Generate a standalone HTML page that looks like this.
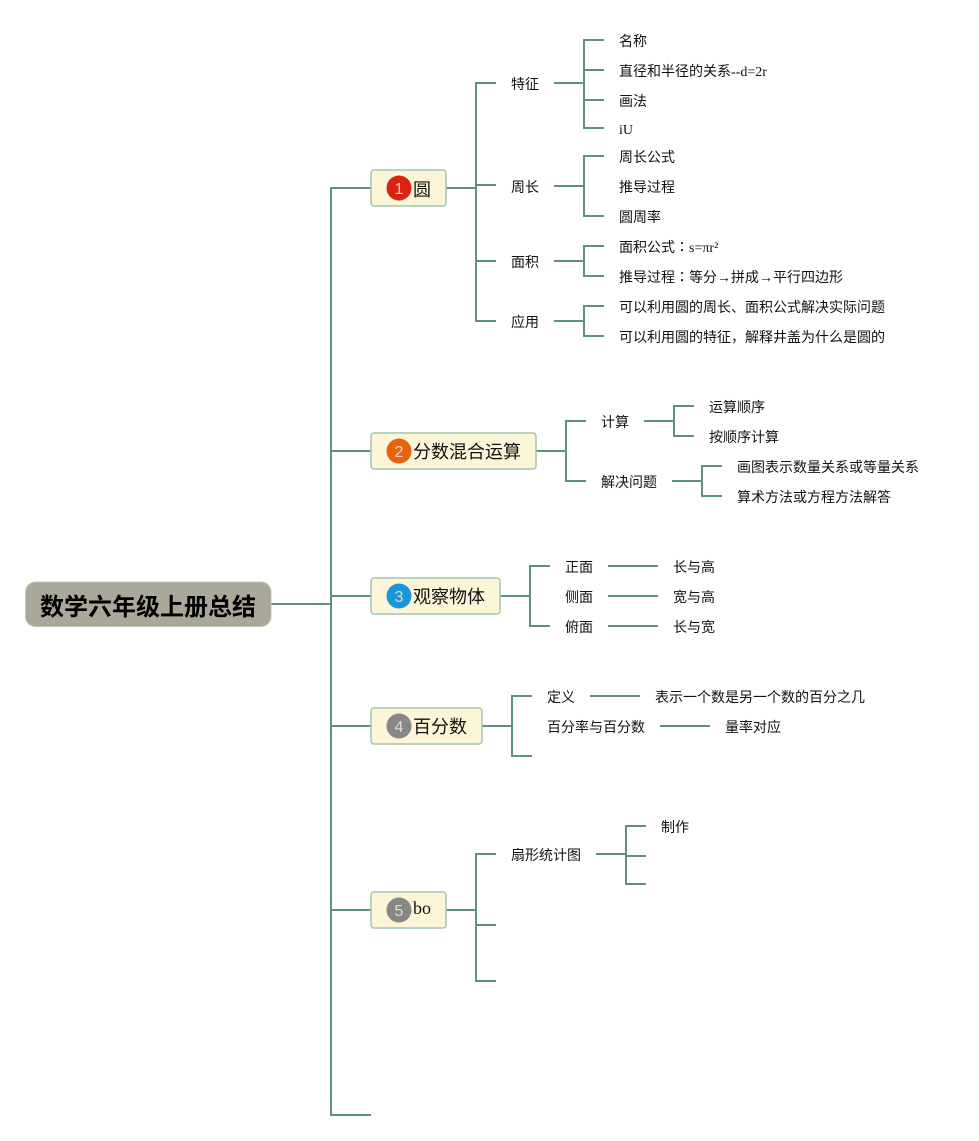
<!DOCTYPE html>
<html><head><meta charset="utf-8">
<style>
html,body{margin:0;padding:0;background:#fff;width:979px;height:1141px;overflow:hidden}
svg{display:block}
text{font-family:"Liberation Serif","Noto Sans CJK SC",serif;fill:#111;font-size:14px}
.n{font-size:18px}
.d{font-family:"Liberation Sans",sans-serif;font-size:16px;fill:#f3e9dc;text-anchor:middle;fill-opacity:.85}
.c{font-family:"Noto Sans CJK TC",sans-serif}
</style></head><body>
<svg width="979" height="1141" viewBox="0 0 979 1141" xmlns="http://www.w3.org/2000/svg">
<g fill="none" stroke="#5f9182" stroke-width="2">
<path d="M271 604H331M371 188H331V1115H371M331 451H371M331 596H371M331 726H371M331 910H371"/>
<path d="M446 188H476M496 83H476V321H496M476 185H496M476 261H496"/>
<path d="M554 83H584M604 40H584V128H604M584 70H604M584 100H604"/>
<path d="M554 186H584M604 156H584V216H604"/>
<path d="M554 261H584M604 246H584V276H604"/>
<path d="M554 321H584M604 306H584V336H604"/>
<path d="M536 451H566M586 421H566V481H586"/>
<path d="M644 421H674M694 406H674V436H694"/>
<path d="M672 481H702M722 466H702V496H722"/>
<path d="M500 596H530M550 566H530V626H550"/>
<path d="M608 566H658M608 596H658M608 626H658"/>
<path d="M482 726H512M532 696H512V756H532"/>
<path d="M590 696H640M660 726H710"/>
<path d="M446 910H476M496 854H476V981H496M476 925H496"/>
<path d="M596 854H626M646 826H626V884H646M626 856H646"/>
</g>
<rect x="25.5" y="582" width="245.500" height="44.500" rx="10" fill="#a9a899" stroke="#c4c3b6"/>
<text x="148" y="615" text-anchor="middle" style="font-family:'Noto Sans CJK SC',sans-serif;font-size:24px;font-weight:700;fill:#000">数学六年级上册总结</text>
<g fill="#fdf5d8" stroke="#a3c4ae" stroke-width="1.500">
<rect x="371" y="170" width="75" height="36" rx="3"/>
<rect x="371" y="433" width="165" height="36" rx="3"/>
<rect x="371" y="578" width="129" height="36" rx="3"/>
<rect x="371" y="708" width="111" height="36" rx="3"/>
<rect x="371" y="892" width="75" height="36" rx="3"/>
</g>
<circle cx="399" cy="188" r="12.500" fill="#d9230f"/><text class="d" x="399" y="194">1</text>
<circle cx="399" cy="451" r="12.500" fill="#e5620f"/><text class="d" x="399" y="457">2</text>
<circle cx="399" cy="596" r="12.500" fill="#1b96d8"/><text class="d" x="399" y="602">3</text>
<circle cx="399" cy="726" r="12.500" fill="#878787"/><text class="d" x="399" y="732">4</text>
<circle cx="399" cy="910" r="12.500" fill="#878787"/><text class="d" x="399" y="916">5</text>
<text class="n" x="413" y="196">圆</text>
<text class="n" x="413" y="458">分数混合运算</text>
<text class="n" x="413" y="603">观察物体</text>
<text class="n" x="413" y="733">百分数</text>
<text class="n" x="413" y="914">bo</text>
<text x="511" y="89">特征</text>
<text x="511" y="192">周长</text>
<text x="511" y="267">面积</text>
<text x="511" y="327">应用</text>
<text x="619" y="46">名称</text>
<text x="619" y="76">直径和半径的关系--d=2r</text>
<text x="619" y="106">画法</text>
<text x="619" y="134">iU</text>
<text x="619" y="162">周长公式</text>
<text x="619" y="192">推导过程</text>
<text x="619" y="222">圆周率</text>
<text x="619" y="252">面积公式<tspan class="c">：</tspan>s=πr²</text>
<text x="619" y="282">推导过程<tspan class="c">：</tspan>等分→拼成→平行四边形</text>
<text x="619" y="312">可以利用圆的周长、面积公式解决实际问题</text>
<text x="619" y="342">可以利用圆的特征，解释井盖为什么是圆的</text>
<text x="601" y="427">计算</text>
<text x="601" y="487">解决问题</text>
<text x="709" y="412">运算顺序</text>
<text x="709" y="442">按顺序计算</text>
<text x="737" y="472">画图表示数量关系或等量关系</text>
<text x="737" y="502">算术方法或方程方法解答</text>
<text x="565" y="572">正面</text>
<text x="565" y="602">侧面</text>
<text x="565" y="632">俯面</text>
<text x="673" y="572">长与高</text>
<text x="673" y="602">宽与高</text>
<text x="673" y="632">长与宽</text>
<text x="547" y="702">定义</text>
<text x="547" y="732">百分率与百分数</text>
<text x="655" y="702">表示一个数是另一个数的百分之几</text>
<text x="725" y="732">量率对应</text>
<text x="511" y="860">扇形统计图</text>
<text x="661" y="832">制作</text>
</svg>
</body></html>
